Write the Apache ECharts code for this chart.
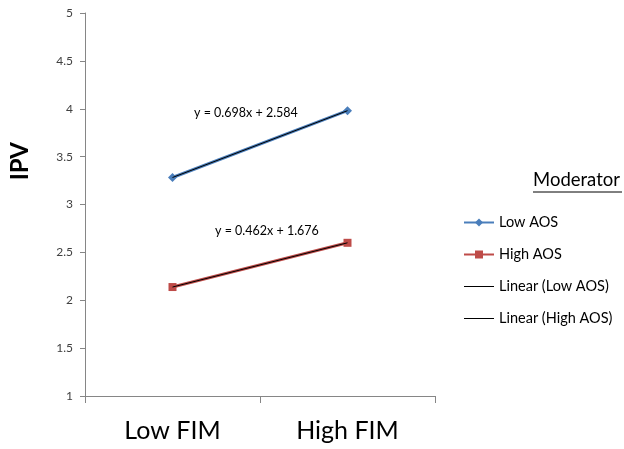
<!DOCTYPE html>
<html><head><meta charset="utf-8">
<script src="https://cdn.jsdelivr.net/npm/echarts@6/dist/echarts.min.js"></script>
<style>html,body{margin:0;padding:0;background:#fff}#c{width:624px;height:449px}</style>
</head><body><div id="c"></div>
<script>
const categories = ['Low FIM', 'High FIM'];
const lowAOS = [3.282, 3.98];
const highAOS = [2.138, 2.6];
const trendLow = [3.282, 3.98];
const trendHigh = [2.138, 2.6];
const yTicks = [1, 1.5, 2, 2.5, 3, 3.5, 4, 4.5, 5];
const eqLow = 'y = 0.698x + 2.584';
const eqHigh = 'y = 0.462x + 1.676';

const font = 'Lato, "Open Sans", sans-serif';
const thinLine = 'path://M0,0 L30,0 L30,1 L0,1 Z';
const chart = echarts.init(document.getElementById('c'));
chart.setOption({
  animation: false,
  backgroundColor: '#fff',
  grid: {left: 85, right: 189, top: 13, bottom: 53, containLabel: false},
  xAxis: {
    type: 'category', data: categories, boundaryGap: true,
    axisLine: {lineStyle: {color: '#868686', width: 1}},
    axisTick: {show: true, length: 7, lineStyle: {color: '#868686'}},
    axisLabel: {fontSize: 25, color: '#000', fontFamily: font, margin: 22}
  },
  yAxis: {
    type: 'value', min: yTicks[0], max: yTicks[yTicks.length - 1], interval: 0.5,
    axisLine: {show: true, lineStyle: {color: '#868686', width: 1}},
    axisTick: {show: true, length: 5, lineStyle: {color: '#868686'}},
    splitLine: {show: false},
    axisLabel: {fontSize: 12, color: '#404040', fontFamily: font, margin: 12}
  },
  legend: {
    orient: 'vertical', left: 463, top: 215, itemGap: 17, itemWidth: 30, itemHeight: 10,
    padding: 0, symbolKeepAspect: true,
    textStyle: {fontSize: 14.5, color: '#000', fontFamily: font},
    data: [
      'Low AOS', 'High AOS',
      {name: 'Linear (Low AOS)', icon: thinLine},
      {name: 'Linear (High AOS)', icon: thinLine}
    ]
  },
  graphic: [
    {type: 'text', left: 8, top: 142, rotation: Math.PI / 2,
     style: {text: 'IPV', font: 'bold 24px ' + font, fill: '#000'}},
    {type: 'text', left: 533, top: 171, style: {text: 'Moderator', font: '18.5px ' + font, fill: '#000'}},
    {type: 'line', shape: {x1: 533, y1: 192, x2: 622, y2: 192}, style: {stroke: '#000', lineWidth: 1}},
    {type: 'text', left: 194, top: 106, style: {text: eqLow, font: '12.5px ' + font, fill: '#000'}},
    {type: 'text', left: 215, top: 224, style: {text: eqHigh, font: '12.5px ' + font, fill: '#000'}}
  ],
  series: [
    {name: 'Low AOS', type: 'line', data: lowAOS, symbol: 'diamond', symbolSize: 9,
     lineStyle: {color: '#4a7ebb', width: 3}, itemStyle: {color: '#4a7ebb'}, z: 2},
    {name: 'High AOS', type: 'line', data: highAOS, symbol: 'rect', symbolSize: 8,
     lineStyle: {color: '#be4b48', width: 3}, itemStyle: {color: '#be4b48'}, z: 2},
    {name: 'Linear (Low AOS)', type: 'line', data: trendLow, symbol: 'none',
     lineStyle: {color: '#000', width: 1}, itemStyle: {color: '#000'}, z: 3},
    {name: 'Linear (High AOS)', type: 'line', data: trendHigh, symbol: 'none',
     lineStyle: {color: '#000', width: 1}, itemStyle: {color: '#000'}, z: 3}
  ]
});
</script></body></html>
